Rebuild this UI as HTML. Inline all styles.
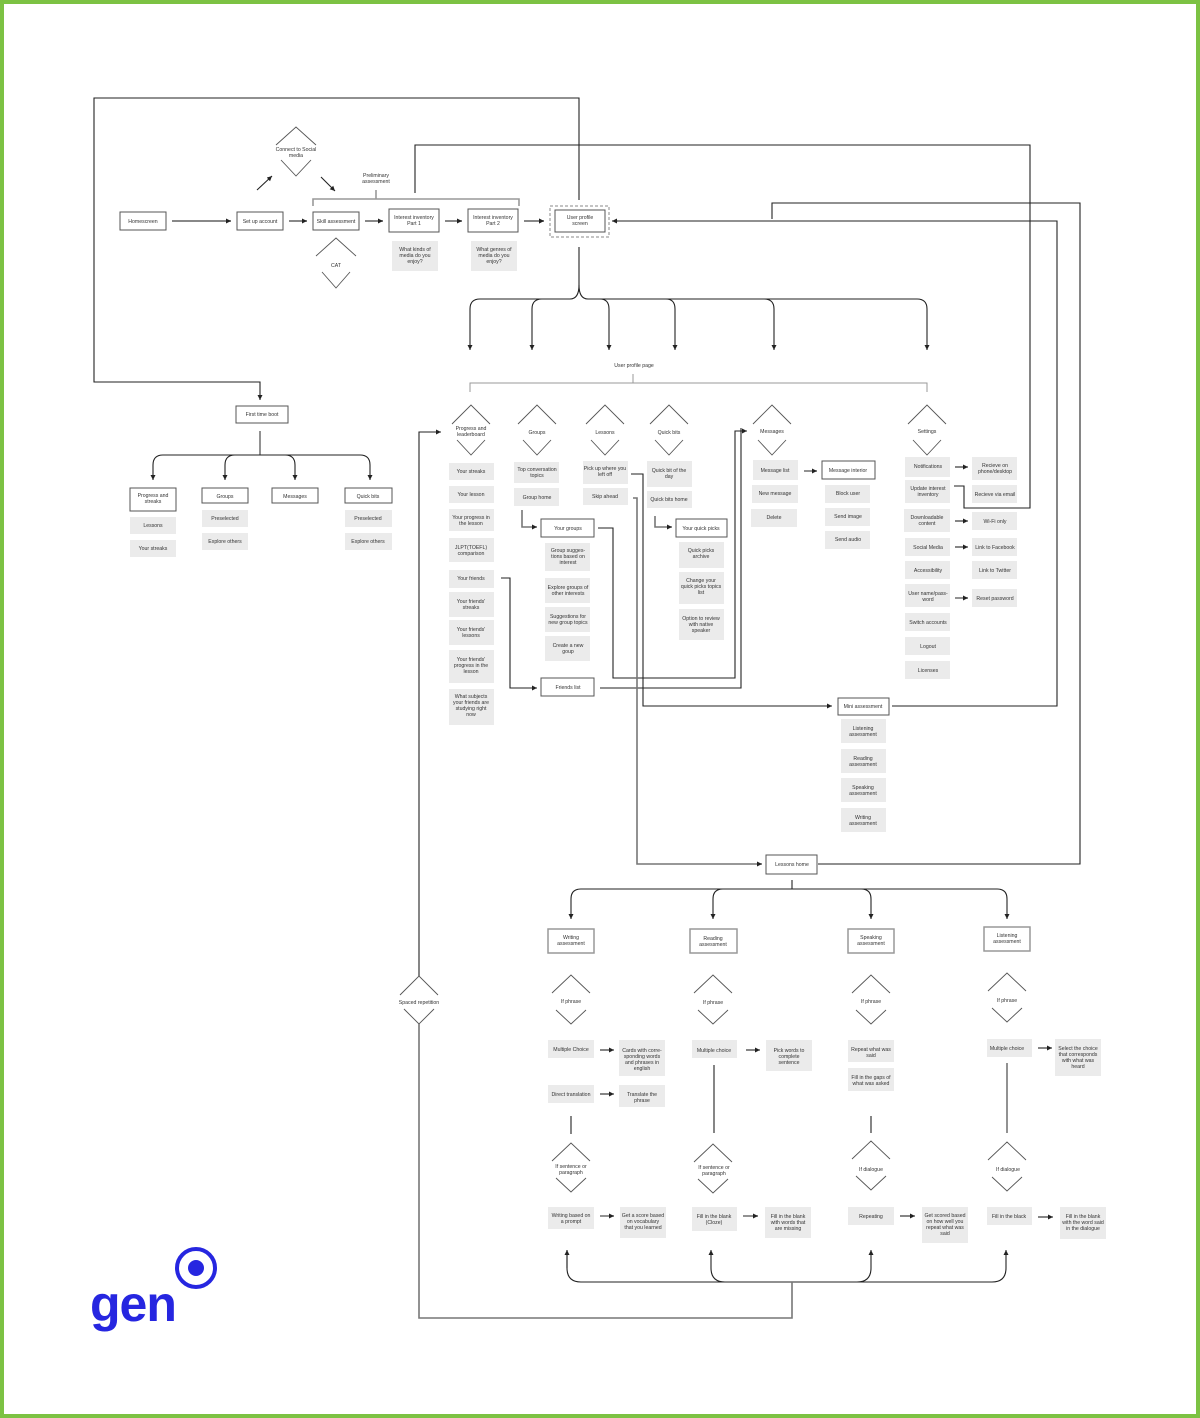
<!DOCTYPE html>
<html><head><meta charset="utf-8"><style>
html,body{margin:0;padding:0;background:#fff}
svg{display:block}
text{font-family:"Liberation Sans",sans-serif;font-size:5.2px;fill:#333;text-anchor:middle}
.g{fill:#ebebeb}
.w{fill:#fff;stroke:#555;stroke-width:1}
.l{fill:none;stroke:#222;stroke-width:1.1}
.m{fill:none;stroke:#777;stroke-width:1.6}
.d{fill:none;stroke:#555;stroke-width:0.9}
</style></head><body>
<svg width="1200" height="1418" viewBox="0 0 1200 1418" xmlns="http://www.w3.org/2000/svg">
<defs><marker id="a" markerWidth="6" markerHeight="6" refX="5" refY="3" orient="auto" markerUnits="userSpaceOnUse"><path d="M0,0.5 L5,3 L0,5.5z" fill="#222"/></marker></defs>
<rect x="2" y="2" width="1196" height="1414" fill="none" stroke="#7cc243" stroke-width="4"/>

<!-- top row -->
<rect class="w" x="120" y="212" width="46" height="18"/><text x="143" y="223">Homescreen</text>
<rect class="w" x="237" y="212" width="46" height="18"/><text x="260" y="223">Set up account</text>
<rect class="w" x="313" y="212" width="46" height="18"/><text x="336" y="223">Skill assessment</text>
<rect class="w" x="389" y="209" width="50" height="23"/><text x="414" y="219">Interest inventory<tspan x="414" dy="6">Part 1</tspan></text>
<rect class="w" x="468" y="209" width="50" height="23"/><text x="493" y="219">Interest inventory<tspan x="493" dy="6">Part 2</tspan></text>
<rect x="550" y="206" width="59" height="31" fill="none" stroke="#888" stroke-dasharray="3,2"/>
<rect class="w" x="555" y="210" width="50" height="22"/><text x="580" y="219">User profile<tspan x="580" dy="6">screen</tspan></text>
<rect class="g" x="392" y="241" width="46" height="30"/><text x="415" y="251">What kinds of<tspan x="415" dy="6">media do you</tspan><tspan x="415" dy="6">enjoy?</tspan></text>
<rect class="g" x="471" y="241" width="46" height="30"/><text x="494" y="251">What genres of<tspan x="494" dy="6">media do you</tspan><tspan x="494" dy="6">enjoy?</tspan></text>
<path class="m" d="M172,221H231M289,221H307M365,221H383M445,221H462M524,221H544" marker-end="url(#a)"/>
<path class="m" d="M172,221H231" marker-end="url(#a)"/><path class="m" d="M289,221H307" marker-end="url(#a)"/><path class="m" d="M365,221H383" marker-end="url(#a)"/><path class="m" d="M445,221H462" marker-end="url(#a)"/><path class="m" d="M524,221H544" marker-end="url(#a)"/>
<path class="l" d="M257,190L272,176" marker-end="url(#a)"/><path class="l" d="M321,177L335,191" marker-end="url(#a)"/>
<path class="d" d="M276,145L296,127L316,145M281,160L296,176L311,160"/><text x="296" y="151">Connect to Social<tspan x="296" dy="6">media</tspan></text>
<path class="d" d="M316,256L336,238L356,256M322,272L336,288L350,272"/><text x="336" y="267">CAT</text>
<path class="m" style="stroke:#999" d="M313,206V199H519V206M376,199V190"/>
<text x="376" y="177">Preliminary<tspan x="376" dy="6">assessment</tspan></text>
<!-- long connectors -->
<path class="l" d="M579,200V98H94V382H260V400" marker-end="url(#a)"/>
<path class="l" d="M415,193V145H1030V508H964V486H954"/>
<path class="l" d="M618,221H1057V706H892"/>
<path class="l" d="M612,221H618" marker-end="url(#a)" transform="rotate(180 615 221)"/>
<path class="l" d="M772,219V203H1080V864H818"/>
<!-- user profile branches -->
<path class="l" d="M579,247V285Q579,299 570,299H480Q470,299 470,309V350" marker-end="url(#a)"/>
<path class="l" d="M579,285Q579,299 588,299H917Q927,299 927,309V350" marker-end="url(#a)"/>
<path class="l" d="M542,299Q532,299 532,309V350" marker-end="url(#a)"/>
<path class="l" d="M600,299Q609,299 609,309V350" marker-end="url(#a)"/>
<path class="l" d="M666,299Q675,299 675,309V350" marker-end="url(#a)"/>
<path class="l" d="M764,299Q774,299 774,309V350" marker-end="url(#a)"/>
<text x="634" y="367">User profile page</text>
<path class="m" style="stroke:#999;stroke-width:1" d="M470,392V383H927V392M633,383V374"/>
<!-- column diamonds -->
<g class="d"><path d="M452,424L471,405L490,424M457,440L471,455L485,440"/><path d="M518,424L537,405L556,424M523,440L537,455L551,440"/><path d="M586,424L605,405L624,424M591,440L605,455L619,440"/><path d="M650,424L669,405L688,424M655,440L669,455L683,440"/><path d="M753,424L772,405L791,424M758,440L772,455L786,440"/><path d="M908,424L927,405L946,424M913,440L927,455L941,440"/></g>
<text x="471" y="430">Progress and<tspan x="471" dy="6">leaderboard</tspan></text>
<text x="537" y="434">Groups</text><text x="605" y="434">Lessons</text><text x="669" y="434">Quick bits</text><text x="772" y="433">Messages</text><text x="927" y="433">Settings</text>
<!-- progress column -->
<g class="g"><rect x="449" y="463" width="45" height="17"/><rect x="449" y="486" width="45" height="17"/><rect x="449" y="509" width="45" height="22"/><rect x="449" y="538" width="45" height="24"/><rect x="449" y="570" width="45" height="18"/><rect x="449" y="592" width="45" height="25"/><rect x="449" y="620" width="45" height="25"/><rect x="449" y="650" width="45" height="33"/><rect x="449" y="689" width="45" height="36"/></g>
<text x="471" y="473">Your streaks</text><text x="471" y="496">Your lesson</text>
<text x="471" y="519">Your progress in<tspan x="471" dy="6">the lesson</tspan></text>
<text x="471" y="549">JLPT(TOEFL)<tspan x="471" dy="6">comparison</tspan></text>
<text x="471" y="580">Your friends</text>
<text x="471" y="603">Your friends'<tspan x="471" dy="6">streaks</tspan></text>
<text x="471" y="631">Your friends'<tspan x="471" dy="6">lessons</tspan></text>
<text x="471" y="661">Your friends'<tspan x="471" dy="6">progress in the</tspan><tspan x="471" dy="6">lesson</tspan></text>
<text x="471" y="698">What subjects<tspan x="471" dy="6">your friends are</tspan><tspan x="471" dy="6">studying right</tspan><tspan x="471" dy="6">now</tspan></text>
<!-- groups column -->
<g class="g"><rect x="514" y="462" width="45" height="21"/><rect x="514" y="488" width="45" height="18"/><rect x="545" y="543" width="45" height="28"/><rect x="545" y="578" width="45" height="25"/><rect x="545" y="607" width="45" height="25"/><rect x="545" y="636" width="45" height="25"/></g>
<text x="537" y="471">Top conversation<tspan x="537" dy="6">topics</tspan></text><text x="537" y="499">Group home</text>
<rect class="w" x="541" y="519" width="53" height="18"/><text x="568" y="530">Your groups</text>
<text x="568" y="552">Group sugges-<tspan x="568" dy="6">tions based on</tspan><tspan x="568" dy="6">interest</tspan></text>
<text x="568" y="589">Explore groups of<tspan x="568" dy="6">other interests</tspan></text>
<text x="568" y="618">Suggestions for<tspan x="568" dy="6">new group topics</tspan></text>
<text x="568" y="647">Create a new<tspan x="568" dy="6">goup</tspan></text>
<rect class="w" x="541" y="678" width="53" height="18"/><text x="568" y="689">Friends list</text>
<!-- lessons column -->
<g class="g"><rect x="583" y="461" width="45" height="23"/><rect x="583" y="488" width="45" height="17"/></g>
<text x="605" y="470">Pick up where you<tspan x="605" dy="6">left off</tspan></text><text x="605" y="498">Skip ahead</text>
<!-- quick bits column -->
<g class="g"><rect x="647" y="461" width="45" height="26"/><rect x="647" y="491" width="45" height="17"/><rect x="679" y="542" width="45" height="26"/><rect x="679" y="572" width="45" height="32"/><rect x="679" y="609" width="45" height="31"/></g>
<text x="669" y="472">Quick bit of the<tspan x="669" dy="6">day</tspan></text><text x="669" y="501">Quick bits home</text>
<rect class="w" x="676" y="519" width="51" height="18"/><text x="701" y="530">Your quick picks</text>
<text x="701" y="552">Quick picks<tspan x="701" dy="6">archive</tspan></text>
<text x="701" y="582">Change your<tspan x="701" dy="6">quick picks topics</tspan><tspan x="701" dy="6">list</tspan></text>
<text x="701" y="620">Option to review<tspan x="701" dy="6">with native</tspan><tspan x="701" dy="6">speaker</tspan></text>
<!-- messages -->
<g class="g"><rect x="753" y="460" width="45" height="20"/><rect x="752" y="485" width="46" height="18"/><rect x="751" y="509" width="46" height="18"/><rect x="825" y="485" width="45" height="18"/><rect x="825" y="508" width="45" height="18"/><rect x="825" y="531" width="45" height="18"/></g>
<text x="775" y="472">Message list</text><text x="775" y="495">New message</text><text x="774" y="519">Delete</text>
<path class="m" d="M804,471H817" marker-end="url(#a)"/>
<rect class="w" x="822" y="461" width="53" height="18"/><text x="848" y="472">Message interior</text>
<text x="848" y="495">Block user</text><text x="848" y="518">Send image</text><text x="848" y="541">Send audio</text>
<!-- settings -->
<g class="g"><rect x="905" y="457" width="45" height="20"/><rect x="905" y="480" width="45" height="23"/><rect x="904" y="509" width="46" height="23"/><rect x="905" y="538" width="45" height="18"/><rect x="905" y="561" width="45" height="18"/><rect x="905" y="584" width="45" height="23"/><rect x="905" y="613" width="45" height="18"/><rect x="905" y="637" width="45" height="18"/><rect x="905" y="661" width="45" height="18"/>
<rect x="972" y="457" width="45" height="23"/><rect x="972" y="485" width="45" height="18"/><rect x="972" y="512" width="45" height="18"/><rect x="972" y="538" width="45" height="18"/><rect x="972" y="561" width="45" height="18"/><rect x="972" y="589" width="45" height="18"/></g>
<text x="928" y="468">Notifications</text><text x="928" y="490">Update interest<tspan x="928" dy="6">inventory</tspan></text>
<text x="927" y="519">Downloadable<tspan x="927" dy="6">content</tspan></text><text x="928" y="549">Social Media</text>
<text x="928" y="572">Accessibility</text><text x="928" y="595">User name/pass-<tspan x="928" dy="6">word</tspan></text>
<text x="928" y="624">Switch accounts</text><text x="928" y="648">Logout</text><text x="928" y="672">Licenses</text>
<text x="995" y="467">Recieve on<tspan x="995" dy="6">phone/desktop</tspan></text><text x="995" y="496">Recieve via email</text>
<text x="995" y="523">Wi-Fi only</text><text x="995" y="549">Link to Facebook</text><text x="995" y="572">Link to Twitter</text><text x="995" y="600">Reset password</text>
<path class="l" d="M955,467H968" marker-end="url(#a)"/><path class="l" d="M955,521H968" marker-end="url(#a)"/><path class="l" d="M955,547H968" marker-end="url(#a)"/><path class="m" d="M955,598H968" marker-end="url(#a)"/>
<!-- mini assessment -->
<rect class="w" x="838" y="698" width="51" height="17"/><text x="863" y="708">Mini assessment</text>
<g class="g"><rect x="841" y="719" width="45" height="24"/><rect x="841" y="749" width="45" height="24"/><rect x="841" y="778" width="45" height="24"/><rect x="841" y="808" width="45" height="24"/></g>
<text x="863" y="730">Listening<tspan x="863" dy="6">assessment</tspan></text><text x="863" y="760">Reading<tspan x="863" dy="6">assessment</tspan></text>
<text x="863" y="789">Speaking<tspan x="863" dy="6">assessment</tspan></text><text x="863" y="819">Writing<tspan x="863" dy="6">assessment</tspan></text>
<!-- mid connectors -->
<path class="m" d="M522,510V527H537" marker-end="url(#a)"/>
<path class="l" d="M501,578H510V688H537" marker-end="url(#a)"/>
<path class="l" d="M598,528H613V678H735V431H747" marker-end="url(#a)"/>
<path class="l" d="M600,688H741V428"/>
<path class="l" d="M631,474H643V706H832" marker-end="url(#a)"/>
<path class="m" d="M633,498H637V864H762" marker-end="url(#a)"/>
<path class="m" d="M655,516V527H672" marker-end="url(#a)"/>
<!-- left section -->
<rect class="w" x="236" y="406" width="52" height="17"/><text x="262" y="416">First time boot</text>
<path class="m" d="M260,431V455"/>
<path class="l" d="M260,455H163Q153,455 153,465V480" marker-end="url(#a)"/>
<path class="l" d="M260,455H360Q370,455 370,465V480" marker-end="url(#a)"/>
<path class="l" d="M235,455Q225,455 225,465V480" marker-end="url(#a)"/>
<path class="l" d="M285,455Q295,455 295,465V480" marker-end="url(#a)"/>
<rect class="w" x="130" y="488" width="46" height="23"/><text x="153" y="497">Progress and<tspan x="153" dy="6">streaks</tspan></text>
<rect class="w" x="202" y="488" width="46" height="15"/><text x="225" y="498">Groups</text>
<rect class="w" x="272" y="488" width="46" height="15"/><text x="295" y="498">Messages</text>
<rect class="w" x="345" y="488" width="47" height="15"/><text x="368" y="498">Quick bits</text>
<g class="g"><rect x="130" y="517" width="46" height="17"/><rect x="130" y="540" width="46" height="17"/><rect x="202" y="510" width="46" height="17"/><rect x="202" y="533" width="46" height="17"/><rect x="345" y="510" width="47" height="17"/><rect x="345" y="533" width="47" height="17"/></g>
<text x="153" y="527">Lessons</text><text x="153" y="550">Your streaks</text><text x="225" y="520">Preselected</text><text x="225" y="543">Explore others</text><text x="368" y="520">Preselected</text><text x="368" y="543">Explore others</text>
<!-- lessons home -->
<rect class="w" x="766" y="855" width="51" height="19"/><text x="792" y="866">Lessons home</text>
<path class="l" d="M792,880V889"/>
<path class="l" d="M792,889H581Q571,889 571,899V919" marker-end="url(#a)"/>
<path class="l" d="M792,889H997Q1007,889 1007,899V919" marker-end="url(#a)"/>
<path class="l" d="M723,889Q713,889 713,899V919" marker-end="url(#a)"/>
<path class="l" d="M861,889Q871,889 871,899V919" marker-end="url(#a)"/>
<rect class="w" x="548" y="929" width="46" height="24" style="stroke:#999;stroke-width:1.5"/><text x="571" y="939">Writing<tspan x="571" dy="6">assessment</tspan></text>
<rect class="w" x="690" y="929" width="47" height="24" style="stroke:#999;stroke-width:1.5"/><text x="713" y="940">Reading<tspan x="713" dy="6">assessment</tspan></text>
<rect class="w" x="848" y="929" width="46" height="24" style="stroke:#999;stroke-width:1.5"/><text x="871" y="939">Speaking<tspan x="871" dy="6">assessment</tspan></text>
<rect class="w" x="984" y="927" width="46" height="24" style="stroke:#999;stroke-width:1.5"/><text x="1007" y="937">Listening<tspan x="1007" dy="6">assessment</tspan></text>
<!-- if phrase diamonds -->
<g class="d"><path d="M552,993L571,975L590,993M556,1010L571,1024L586,1010"/><path d="M694,993L713,975L732,993M698,1010L713,1024L728,1010"/><path d="M852,993L871,975L890,993M856,1010L871,1024L886,1010"/><path d="M988,991L1007,973L1026,991M992,1008L1007,1022L1022,1008"/>
<path d="M552,1161L571,1143L590,1161M556,1178L571,1192L586,1178"/><path d="M694,1162L713,1144L732,1162M698,1179L713,1193L728,1179"/><path d="M852,1159L871,1141L890,1159M856,1176L871,1190L886,1176"/><path d="M988,1160L1007,1142L1026,1160M992,1177L1007,1191L1022,1177"/>
<path d="M400,995L419,976L438,995M404,1009L419,1024L434,1009"/></g>
<text x="571" y="1003">If phrase</text><text x="713" y="1004">If phrase</text><text x="871" y="1003">If phrase</text><text x="1007" y="1002">If phrase</text>
<text x="571" y="1168">If sentence or<tspan x="571" dy="6">paragraph</tspan></text><text x="714" y="1169">If sentence or<tspan x="714" dy="6">paragraph</tspan></text>
<text x="871" y="1171">If dialogue</text><text x="1008" y="1171">If dialogue</text>
<text x="419" y="1004">Spaced repetition</text>
<!-- bottom grey boxes -->
<g class="g"><rect x="548" y="1040" width="46" height="18"/><rect x="619" y="1040" width="46" height="36"/><rect x="548" y="1085" width="46" height="18"/><rect x="619" y="1085" width="46" height="22"/><rect x="548" y="1207" width="46" height="22"/><rect x="620" y="1207" width="46" height="31"/>
<rect x="692" y="1040" width="45" height="18"/><rect x="766" y="1040" width="46" height="31"/><rect x="692" y="1207" width="45" height="24"/><rect x="765" y="1207" width="46" height="31"/>
<rect x="848" y="1040" width="46" height="22"/><rect x="848" y="1068" width="46" height="23"/><rect x="848" y="1207" width="46" height="18"/><rect x="922" y="1207" width="46" height="36"/>
<rect x="987" y="1039" width="45" height="18"/><rect x="1055" y="1039" width="46" height="37"/><rect x="987" y="1207" width="45" height="18"/><rect x="1060" y="1207" width="46" height="32"/></g>
<text x="571" y="1051">Multiple Choice</text><text x="642" y="1052">Cards with corre-<tspan x="642" dy="6">sponding words</tspan><tspan x="642" dy="6">and phrases in</tspan><tspan x="642" dy="6">english</tspan></text>
<text x="571" y="1096">Direct translation</text><text x="642" y="1096">Translate the<tspan x="642" dy="6">phrase</tspan></text>
<text x="571" y="1217">Writing based on<tspan x="571" dy="6">a prompt</tspan></text><text x="643" y="1217">Get a score based<tspan x="643" dy="6">on vocabulary</tspan><tspan x="643" dy="6">that you learned</tspan></text>
<text x="714" y="1052">Multiple choice</text><text x="789" y="1052">Pick words to<tspan x="789" dy="6">complete</tspan><tspan x="789" dy="6">sentence</tspan></text>
<text x="714" y="1218">Fill in the blank<tspan x="714" dy="6">(Cloze)</tspan></text><text x="788" y="1218">Fill in the blank<tspan x="788" dy="6">with words that</tspan><tspan x="788" dy="6">are missing</tspan></text>
<text x="871" y="1051">Repeat what was<tspan x="871" dy="6">said</tspan></text><text x="871" y="1079">Fill in the gaps of<tspan x="871" dy="6">what was asked</tspan></text>
<text x="871" y="1218">Repeating</text><text x="945" y="1217">Get scored based<tspan x="945" dy="6">on how well you</tspan><tspan x="945" dy="6">repeat what was</tspan><tspan x="945" dy="6">said</tspan></text>
<text x="1007" y="1050">Multiple choice</text><text x="1078" y="1050">Select the choice<tspan x="1078" dy="6">that corresponds</tspan><tspan x="1078" dy="6">with what was</tspan><tspan x="1078" dy="6">heard</tspan></text>
<text x="1009" y="1218">Fill in the black</text><text x="1083" y="1218">Fill in the blank<tspan x="1083" dy="6">with the word said</tspan><tspan x="1083" dy="6">in the dialogue</tspan></text>
<g><path class="l" d="M600,1050H614" marker-end="url(#a)"/><path class="l" d="M600,1094H614" marker-end="url(#a)"/><path class="m" d="M600,1216H614" marker-end="url(#a)"/>
<path class="l" d="M746,1050H760" marker-end="url(#a)"/><path class="m" d="M743,1216H758" marker-end="url(#a)"/>
<path class="l" d="M900,1216H915" marker-end="url(#a)"/>
<path class="l" d="M1038,1048H1052" marker-end="url(#a)"/><path class="l" d="M1038,1217H1053" marker-end="url(#a)"/></g>
<path class="l" d="M571,1116V1134M714,1065V1133M871,1116V1133"/><path class="m" d="M1007,1063V1133"/>
<!-- bottom loop -->
<path class="l" d="M567,1250V1268Q567,1282 581,1282H992Q1006,1282 1006,1268V1250" marker-end="url(#a)"/>
<path class="l" d="M567,1268V1250" marker-end="url(#a)"/>
<path class="l" d="M725,1282Q711,1282 711,1268V1250" marker-end="url(#a)"/>
<path class="l" d="M857,1282Q871,1282 871,1268V1250" marker-end="url(#a)"/>
<path class="m" d="M792,1282V1318H419V1024"/>
<path class="l" d="M419,976V432H441" marker-end="url(#a)"/>
<!-- logo -->
<text x="90" y="1321" style="font-size:50px;font-weight:bold;fill:#2626e0;text-anchor:start;letter-spacing:-1px">gen</text>
<circle cx="196" cy="1268" r="19" fill="none" stroke="#2626e0" stroke-width="4"/><circle cx="196" cy="1268" r="8" fill="#2626e0"/>
</svg>
</body></html>
